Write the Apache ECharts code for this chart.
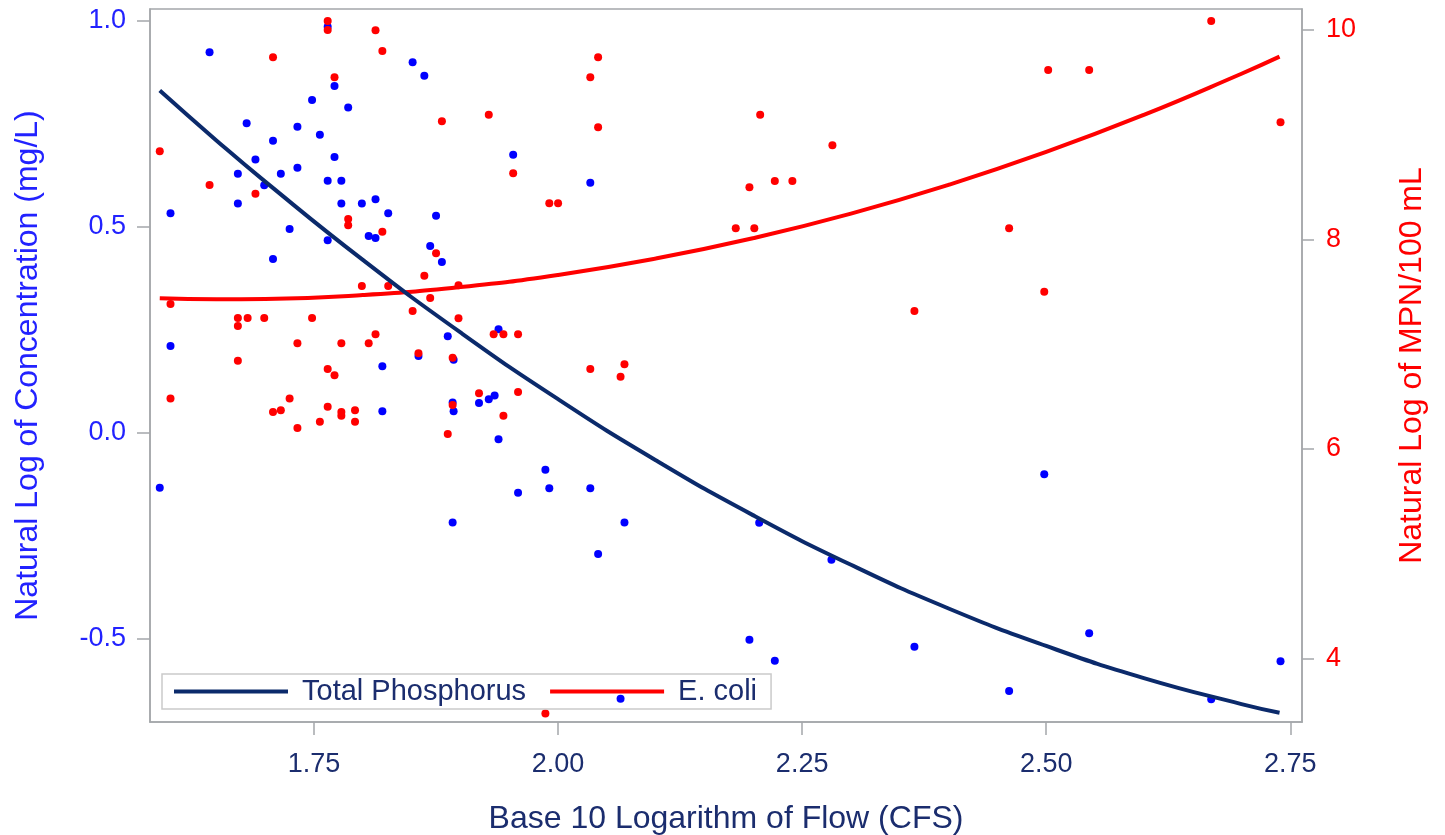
<!DOCTYPE html>
<html>
<head>
<meta charset="utf-8">
<script src="https://cdn.jsdelivr.net/npm/echarts@6/dist/echarts.min.js"></script>
<style>html,body{margin:0;padding:0;background:#fff}#c{width:1445px;height:835px}</style>
</head>
<body>
<div id="c"></div>
<script>
// Total Phosphorus observations: log10 flow, ln concentration
const tpFlow = [1.764,1.643,1.851,1.863,1.771,1.748,1.785,1.681,1.733,1.756,1.708,1.771,1.690,1.733,1.672,1.716,1.764,1.778,1.699,1.672,1.778,1.799,1.813,1.826,1.875,1.603,1.725,1.764,1.806,1.813,1.869,1.881,1.708,1.887,1.603,1.857,1.820,1.893,1.939,1.892,1.893,1.820,1.919,1.929,1.935,1.939,2.041,2.033,1.954,1.987,1.991,2.033,1.959,1.892,2.068,2.064,1.592,2.206,2.280,2.196,2.222,2.365,2.498,2.544,2.462,2.669,2.740];
const tpConc = [0.986,0.924,0.900,0.867,0.842,0.808,0.790,0.752,0.743,0.724,0.709,0.670,0.664,0.644,0.629,0.629,0.612,0.612,0.601,0.557,0.557,0.557,0.567,0.533,0.527,0.533,0.495,0.468,0.478,0.473,0.454,0.415,0.422,0.235,0.211,0.187,0.162,0.178,0.252,0.074,0.053,0.053,0.073,0.082,0.091,-0.015,-0.294,0.607,0.675,-0.089,-0.134,-0.134,-0.145,-0.217,-0.217,-0.645,-0.133,-0.218,-0.308,-0.502,-0.553,-0.519,-0.100,-0.486,-0.626,-0.646,-0.554];
// E. coli observations: log10 flow, ln MPN/100 mL
const ecFlow = [1.764,1.764,1.708,1.813,1.820,1.771,1.881,1.592,1.643,1.690,1.785,1.785,1.820,1.875,1.863,1.799,1.826,1.898,1.603,1.869,1.851,1.672,1.682,1.699,1.748,1.672,1.898,1.813,1.733,1.778,1.806,1.934,1.944,1.959,1.857,1.892,1.672,1.764,1.771,2.033,2.068,2.064,1.603,1.725,1.919,1.959,1.708,1.716,1.764,1.778,1.778,1.792,1.892,1.944,1.756,1.792,1.733,1.887,2.041,2.033,1.929,2.041,1.954,1.991,2.000,1.987,2.207,2.281,2.196,2.222,2.240,2.182,2.201,2.365,2.669,2.502,2.544,2.740,2.462,2.498];
const ecMpn = [10.086,10.000,9.739,9.997,9.799,9.548,9.128,8.841,8.520,8.437,8.195,8.135,8.074,7.867,7.653,7.555,7.555,7.562,7.383,7.440,7.316,7.249,7.249,7.249,7.249,7.173,7.246,7.094,7.008,7.008,7.008,7.094,7.094,7.094,6.912,6.870,6.841,6.762,6.702,6.762,6.807,6.689,6.482,6.482,6.530,6.543,6.351,6.368,6.402,6.351,6.316,6.368,6.418,6.316,6.259,6.259,6.199,6.141,9.739,9.548,9.191,9.071,8.631,8.345,8.345,3.474,9.191,8.899,8.498,8.558,8.558,8.106,8.106,7.316,10.086,9.618,9.618,9.118,8.106,7.500];
// fitted curves
const fitFlow = [1.592,1.65,1.70,1.80,1.90,2.00,2.10,2.20,2.30,2.40,2.50,2.60,2.70,2.739];
const tpFit = [0.831,0.710,0.610,0.420,0.244,0.082,-0.066,-0.200,-0.320,-0.426,-0.517,-0.595,-0.658,-0.679];
const ecFit = [7.437,7.429,7.432,7.469,7.545,7.661,7.817,8.012,8.246,8.521,8.835,9.189,9.582,9.745];
// tick labels
const xTicks = [1.75,2.00,2.25,2.50,2.75];
const yLeftTicks = [-0.5,0.0,0.5,1.0];
const yRightTicks = [4,6,8,10];

const zip = (a,b) => a.map((v,i) => [v,b[i]]);
const FONT = 'Liberation Sans, Arial, sans-serif';
const NAVY = '#1b2d6e';
const BLUE = '#2222ff';
const FRAME = '#a4a7aa';

const chart = echarts.init(document.getElementById('c'), null, {renderer:'canvas'});
chart.setOption({
  animation:false,
  backgroundColor:'#fff',
  grid:{left:150, right:143, top:9, bottom:113, containLabel:false, outerBoundsMode:'none',
        show:true, borderColor:FRAME, borderWidth:1.5, backgroundColor:'transparent'},
  legend:{
    left:162, top:674, orient:'horizontal',
    padding:[3,14,3,12], itemGap:24, itemWidth:114, itemHeight:4, icon:'rect',
    borderColor:'#cacaca', borderWidth:1.5, backgroundColor:'transparent',
    textStyle:{fontFamily:FONT, fontSize:29, color:NAVY, padding:[0,0,0,9]},
    data:['Total Phosphorus','E. coli']
  },
  xAxis:{
    type:'value', min:1.582, max:2.762,
    name:'Base 10 Logarithm of Flow (CFS)', nameLocation:'middle', nameGap:81,
    nameTextStyle:{fontFamily:FONT, fontSize:32, color:NAVY},
    axisLine:{show:true, onZero:false, lineStyle:{color:FRAME, width:1.5}},
    axisTick:{show:true, length:13, lineStyle:{color:FRAME, width:1.5}, customValues:xTicks},
    axisLabel:{fontFamily:FONT, fontSize:27, color:NAVY, margin:29, customValues:xTicks, formatter:v=>v.toFixed(2)},
    splitLine:{show:false}
  },
  yAxis:[{
    type:'value', min:-0.7015, max:1.029, position:'left',
    name:'Natural Log of Concentration (mg/L)', nameLocation:'middle', nameGap:106, nameRotate:90,
    nameTextStyle:{fontFamily:FONT, fontSize:32, color:BLUE},
    axisLine:{show:true, onZero:false, lineStyle:{color:FRAME, width:1.5}},
    axisTick:{show:true, length:13, lineStyle:{color:FRAME, width:1.5}, customValues:yLeftTicks},
    axisLabel:{fontFamily:FONT, fontSize:27, color:BLUE, margin:24, customValues:yLeftTicks, formatter:v=>v.toFixed(1)},
    splitLine:{show:false}
  },{
    type:'value', min:3.392, max:10.2, position:'right',
    name:'Natural Log of MPN/100 mL', nameLocation:'middle', nameGap:94, nameRotate:90,
    nameTextStyle:{fontFamily:FONT, fontSize:32, color:'#ff0000'},
    axisLine:{show:true, onZero:false, lineStyle:{color:FRAME, width:1.5}},
    axisTick:{show:true, length:12, lineStyle:{color:FRAME, width:1.5}, customValues:yRightTicks},
    axisLabel:{fontFamily:FONT, fontSize:27, color:'#ff0000', margin:24, customValues:yRightTicks, formatter:v=>String(v)},
    splitLine:{show:false}
  }],
  series:[
    {name:'TP obs', type:'scatter', yAxisIndex:0, data:zip(tpFlow,tpConc), symbolSize:8, itemStyle:{color:'#0000ff', opacity:1}, z:2},
    {name:'EC obs', type:'scatter', yAxisIndex:1, data:zip(ecFlow,ecMpn), symbolSize:8, itemStyle:{color:'#ff0000', opacity:1}, z:3},
    {name:'E. coli', type:'line', yAxisIndex:1, data:zip(fitFlow,ecFit), smooth:true, showSymbol:false, symbol:'none', lineStyle:{color:'#ff0000', width:4}, itemStyle:{color:'#ff0000'}, z:4},
    {name:'Total Phosphorus', type:'line', yAxisIndex:0, data:zip(fitFlow,tpFit), smooth:true, showSymbol:false, symbol:'none', lineStyle:{color:'#0b2a6b', width:4}, itemStyle:{color:'#0b2a6b'}, z:5}
  ]
});
</script>
</body>
</html>
